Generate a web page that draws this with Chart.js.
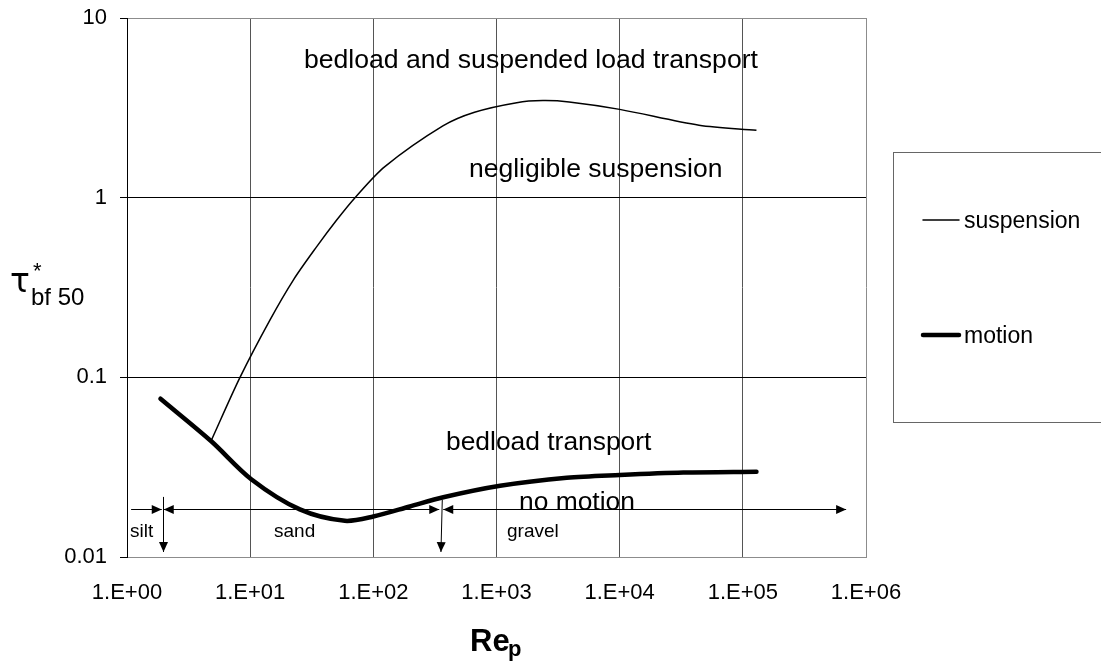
<!DOCTYPE html>
<html>
<head>
<meta charset="utf-8">
<script src="https://cdn.jsdelivr.net/npm/chart.js@4.4.0/dist/chart.umd.min.js"></script>
<style>
body { margin: 0; background: #fff; }
#wrap { width: 1101px; height: 661px; }
</style>
</head>
<body>
<div id="wrap"><canvas id="chart" width="1101" height="661"></canvas></div>
<script>
// critical shear stress curves vs particle Reynolds number
const reMotion = [1.87, 4.81, 10.2, 25.3, 58.7, 100, 198, 370, 1070, 3720, 10000, 32900, 129000];
const tauMotion = [0.076, 0.0442, 0.0271, 0.0184, 0.0159, 0.0168, 0.0191, 0.0215, 0.0249, 0.0276, 0.0286, 0.0295, 0.0298];

const reSusp = [4.81, 8.27, 14.5, 22.4, 34.7, 50.4, 71, 124, 367, 663, 1460, 2380, 3890, 10000, 44100, 129000];
const tauSusp = [0.0442, 0.1, 0.209, 0.348, 0.534, 0.751, 1.0, 1.49, 2.51, 2.99, 3.38, 3.47, 3.41, 3.10, 2.53, 2.37];

const xTicks = [1, 10, 100, 1000, 10000, 100000, 1000000];
const xTickLabels = ['1.E+00', '1.E+01', '1.E+02', '1.E+03', '1.E+04', '1.E+05', '1.E+06'];
const yTicks = [0.01, 0.1, 1, 10];
const yTickLabels = ['0.01', '0.1', '1', '10'];

// grain size ranges along the bottom (Re_p bounds)
const rangeLevel = 0.0186;
const rangeStart = 1.08;
const rangeEnd = 690000;
const siltSand = 1.95;
const sandGravel = 356;
const markTop = [0.0216, 0.0208];
const markBottom = 0.01066;
const gravelMarkRe = [363, 354];

const FONT = '"Liberation Sans", Arial, sans-serif';

const notes = [
    ['bedload and suspended load transport', 304, 68, 26.6],
    ['negligible suspension', 469, 177, 26.5],
    ['bedload transport', 446, 450, 26.4],
    ['no motion', 519, 510, 26.4],
    ['silt', 130, 537, 19],
    ['sand', 274, 537, 19],
    ['gravel', 507, 537, 19]
];

function pts(xs, ys) {
    return xs.map((x, i) => ({x: x, y: ys[i]}))
}

function head(ctx, x, y, dx, dy) {
    const len = 10, half = 4.5;
    ctx.beginPath();
    ctx.moveTo(x, y);
    ctx.lineTo(x - dx * len - dy * half, y - dy * len + dx * half);
    ctx.lineTo(x - dx * len + dy * half, y - dy * len - dx * half);
    ctx.closePath();
    ctx.fill();
}

function seg(ctx, x1, x2, y, leftHead, rightHead) {
    ctx.beginPath();
    ctx.moveTo(x1, y);
    ctx.lineTo(x2, y);
    ctx.stroke();
    if (leftHead) head(ctx, x1, y, -1, 0);
    if (rightHead) head(ctx, x2, y, 1, 0);
}

function down(ctx, xTop, yTop, xBot, yBot) {
    ctx.beginPath();
    ctx.moveTo(xTop, yTop);
    ctx.lineTo(xBot, yBot);
    ctx.stroke();
    const dx = xBot - xTop, dy = yBot - yTop, l = Math.hypot(dx, dy);
    head(ctx, xBot, yBot, dx / l, dy / l);
}

const extras = {
    id: 'extras',
    afterDatasetsDraw(chart) {
        const ctx = chart.ctx;
        const xs = chart.scales.x, ys = chart.scales.y;
        ctx.save();
        ctx.strokeStyle = '#000';
        ctx.fillStyle = '#000';
        ctx.lineWidth = 1;
        const yl = Math.round(ys.getPixelForValue(rangeLevel)) + 0.5;
        const pS = xs.getPixelForValue(siltSand);
        const pG = xs.getPixelForValue(sandGravel);
        seg(ctx, xs.getPixelForValue(rangeStart), pS - 1, yl, false, true);
        seg(ctx, pS + 1, pG - 2, yl, true, true);
        seg(ctx, pG + 2, xs.getPixelForValue(rangeEnd), yl, true, true);
        down(ctx, Math.round(pS) + 0.5, ys.getPixelForValue(markTop[0]), Math.round(pS) + 0.5, ys.getPixelForValue(markBottom));
        down(ctx, xs.getPixelForValue(gravelMarkRe[0]), ys.getPixelForValue(markTop[1]),
            xs.getPixelForValue(gravelMarkRe[1]), ys.getPixelForValue(markBottom));

        ctx.textAlign = 'left';
        ctx.textBaseline = 'alphabetic';
        notes.forEach(n => {
            ctx.font = n[3] + 'px ' + FONT;
            ctx.fillText(n[0], n[1], n[2]);
        });
        ctx.restore();
    },
    afterDraw(chart) {
        const ctx = chart.ctx;
        ctx.save();
        ctx.fillStyle = '#000';
        ctx.textAlign = 'left';
        ctx.textBaseline = 'alphabetic';

        // y axis title: tau*_bf50
        ctx.font = '33px "DejaVu Sans", sans-serif';
        ctx.fillText('τ', 10, 292);
        ctx.font = '22px ' + FONT;
        ctx.fillText('*', 33, 278);
        ctx.font = '24px ' + FONT;
        ctx.fillText('bf 50', 31, 305);

        // x axis title: Re_p
        ctx.font = 'bold 31px ' + FONT;
        ctx.fillText('Re', 470, 651);
        ctx.font = 'bold 22px ' + FONT;
        ctx.fillText('p', 508, 656);

        // legend box
        ctx.strokeStyle = '#666';
        ctx.lineWidth = 1;
        ctx.strokeRect(893.5, 152.5, 220, 270);
        const items = chart.data.datasets;
        const rows = [220, 335];
        const base = [228, 343];
        items.forEach((d, i) => {
            ctx.beginPath();
            ctx.strokeStyle = d.borderColor;
            ctx.lineWidth = d.borderWidth;
            ctx.lineCap = 'round';
            ctx.moveTo(923, rows[i]);
            ctx.lineTo(959, rows[i]);
            ctx.stroke();
            ctx.font = '23px ' + FONT;
            ctx.fillText(d.label, 964, base[i]);
        });
        ctx.restore();
    }
};

const ctx = document.getElementById('chart').getContext('2d');
const chart = new Chart(ctx, {
    type: 'scatter',
    data: {
        datasets: [
            {
                label: 'suspension',
                data: pts(reSusp, tauSusp),
                showLine: true,
                borderColor: '#000',
                borderWidth: 1.5,
                pointRadius: 0,
                tension: 0.3
            },
            {
                label: 'motion',
                data: pts(reMotion, tauMotion),
                showLine: true,
                borderColor: '#000',
                borderWidth: 4.5,
                borderCapStyle: 'round',
                pointRadius: 0,
                tension: 0.3
            }
        ]
    },
    options: {
        responsive: false,
        animation: false,
        events: [],
        layout: {padding: {left: 0, right: 235, top: 18, bottom: 0}},
        plugins: {legend: {display: false}, tooltip: {enabled: false}},
        scales: {
            x: {
                type: 'logarithmic',
                min: 1,
                max: 1000000,
                afterBuildTicks: s => { s.ticks = xTicks.map(v => ({value: v})) },
                afterFit: s => {
                    s.height = 104;
                    s.paddingLeft = 0;
                    s.paddingRight = 0;
                },
                ticks: {
                    autoSkip: false,
                    maxRotation: 0,
                    padding: 23,
                    color: '#000',
                    font: {family: FONT, size: 22},
                    callback: (v, i) => xTickLabels[i]
                },
                grid: {
                    drawTicks: false,
                    color: c => (c.tick && c.tick.value === 1000000) ? '#8c8c8c' : '#555'
                },
                border: {display: true, color: '#8c8c8c'}
            },
            y: {
                type: 'logarithmic',
                min: 0.01,
                max: 10,
                afterBuildTicks: s => { s.ticks = yTicks.map(v => ({value: v})) },
                afterFit: s => {
                    s.width = 127;
                    s.paddingTop = 0;
                    s.paddingBottom = 0;
                },
                ticks: {
                    padding: 13,
                    color: '#000',
                    font: {family: FONT, size: 22},
                    callback: (v, i) => yTickLabels[i]
                },
                grid: {
                    drawTicks: true,
                    tickLength: 7,
                    tickColor: '#000',
                    color: c => (c.tick && (c.tick.value === 10 || c.tick.value === 0.01)) ? '#8c8c8c' : '#000'
                },
                border: {display: true, color: '#000', z: 1}
            }
        }
    },
    plugins: [extras]
});
</script>
</body>
</html>
